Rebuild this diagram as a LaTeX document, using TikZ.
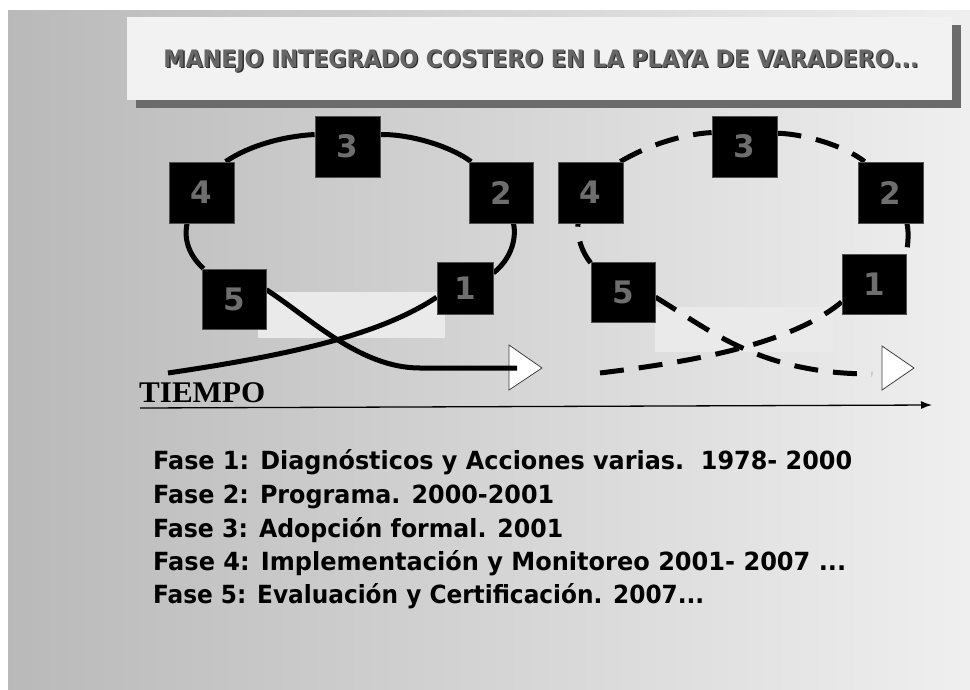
\documentclass[tikz,border=0pt]{standalone}
\usepackage{fontspec}
\usepackage{graphicx}
\usetikzlibrary{arrows.meta}
\newfontfamily\lsans{DejaVu Sans}
\newfontfamily\lserif{Liberation Serif}
\definecolor{bgdark}{HTML}{ABABAB}
\definecolor{titlebg}{HTML}{F2F2F2}
\definecolor{shadowc}{HTML}{6B6B6B}
\definecolor{numc}{HTML}{6E6E6E}
\definecolor{boxedge}{HTML}{505050}
\definecolor{lightrect}{HTML}{EAEAEA}
\definecolor{headedge}{HTML}{404040}
\definecolor{titletxt}{HTML}{666666}
\definecolor{titleshd}{HTML}{2E2E2E}
\pgfdeclarelayer{bglayer}
\pgfdeclarelayer{midlayer}
\pgfsetlayers{bglayer,midlayer,main}
\tikzset{
  numbox/.style={fill=black, draw=boxedge, line width=0.8pt, inner sep=0pt,
    text=numc, font=\lsans\bfseries\fontsize{31}{31}\selectfont,
    minimum width=65pt, minimum height=61pt},
  solidlink/.style={line width=5pt, draw=black},
  dashlink/.style={line width=5pt, draw=black, dash pattern=on 24pt off 15pt},
  openhead/.style={fill=white, draw=headedge, line width=0.8pt},
  listline/.style={anchor=base west, inner sep=0pt, font=\lsans\bfseries\fontsize{25}{25}\selectfont},
  titletext/.style={anchor=base, inner sep=0pt, font=\lsans\bfseries\fontsize{24}{24}\selectfont}
}
\begin{document}
\begin{tikzpicture}[x=1pt,y=-1pt]
\useasboundingbox (0,0) rectangle (970,689);
\begin{pgfonlayer}{bglayer}
  \fill[white] (0,0) rectangle (970,689);
  \begin{scope}
    \clip (8,10) rectangle (970,689);
    \shade[left color=bgdark, right color=white] (-245,10) rectangle (1255,689);
  \end{scope}
  \fill[lightrect] (258,292) rectangle (445,338);
  \fill[lightrect] (655,307) rectangle (833,352);
\end{pgfonlayer}

% title
\fill[shadowc] (136,25) rectangle (961,108);
\fill[titlebg] (127,17) rectangle (952,100);
\node[titletext, text=titleshd] at (542.3,68.3) {\resizebox{755pt}{\height}{MANEJO INTEGRADO COSTERO EN LA PLAYA DE VARADERO...}};
\node[titletext, text=titletxt] (title) at (541,67) {\resizebox{755pt}{\height}{MANEJO INTEGRADO COSTERO EN LA PLAYA DE VARADERO...}};

% left cycle boxes
\node[numbox] (L3) at (347.5,146.5) {3};
\node[numbox] (L4) at (201.5,192.5) {4};
\node[numbox, minimum width=64pt] (L2) at (501,192.5) {2};
\node[numbox, minimum width=64pt, minimum height=60pt] (L5) at (234,299) {5};
\node[numbox, minimum width=56pt, minimum height=52pt] (L1) at (465,288) {1};

% right cycle boxes
\node[numbox] (R3) at (744.5,146.5) {3};
\node[numbox] (R4) at (590.5,192.5) {4};
\node[numbox] (R2) at (890.5,192.5) {2};
\node[numbox, minimum width=64pt, minimum height=60pt] (R5) at (623,292) {5};
\node[numbox, minimum width=64pt, minimum height=60pt] (R1) at (874,284) {1};

\coordinate (LH) at (509,368);
\coordinate (LS) at (168,373);
\coordinate (RH) at (882,368);
\coordinate (RS) at (600,373);
\coordinate (RE) at (872,374);

\begin{pgfonlayer}{midlayer}
  % left loop
  \draw[solidlink] (L5.135) .. controls (192,258) and (183,243) .. (L4.245);
  \draw[solidlink] (L4.52) .. controls (250,145) and (285,136) .. (L3.160);
  \draw[solidlink] (L3.20) .. controls (410,134) and (450,146) .. (L2.134);
  \draw[solidlink] (L2.292) .. controls (517,240) and (510,260) .. (L1.28);
  % left crossing
  \draw[openhead] (LH) -- ++(0,-23) -- ++(33,23) -- ++(-33,22) -- cycle;
  \draw[solidlink] (L5.16) .. controls (310,318) and (360,368) .. (420,368) -- ([xshift=8pt]LH);
  \draw[solidlink] (LS) .. controls (290,355) and (380,335) .. (L1.198);
  % right loop
  \draw[dashlink] (R5.138) .. controls (582,252) and (577,238) .. (R4.248);
  \draw[dashlink] (R4.46) .. controls (650,144) and (685,134) .. (R3.157);
  \draw[dashlink] (R3.22) .. controls (805,134) and (845,146) .. (R2.130);
  \draw[dashlink] (R2.298) .. controls (909,232) and (908,244) .. (R1.43);
  % right crossing
  \draw[openhead] (RH) -- ++(0,-22) -- ++(32,22) -- ++(-32,22) -- cycle;
  \draw[dashlink] (R5.351) .. controls (710,330) and (760,374) .. (RE);
  \draw[dashlink] (RS) .. controls (690,362) and (790,345) .. (R1.209);
\end{pgfonlayer}

% time axis
\coordinate (T0) at (140,408);
\coordinate (T1) at (932,405);
\draw[line width=1.3pt, -{Latex[length=11pt,width=8pt]}] (T0) -- (T1);
\node[anchor=base west, inner sep=0pt, font=\lserif\bfseries\fontsize{30}{30}\selectfont] (tiempo) at (139,402) {\resizebox{126pt}{\height}{TIEMPO}};

% phases
\node[listline] (f1) at (153,469) {\resizebox{699pt}{\height}{Fase 1: Diagnósticos y Acciones varias.\ \ 1978- 2000}};
\node[listline] (f2) at (153,503) {\resizebox{401pt}{\height}{Fase 2: Programa. 2000-2001}};
\node[listline] (f3) at (153,537) {\resizebox{410pt}{\height}{Fase 3: Adopción formal. 2001}};
\node[listline] (f4) at (153,570) {\resizebox{693pt}{\height}{Fase 4: Implementación y Monitoreo 2001- 2007 ...}};
\node[listline] (f5) at (153,603) {\resizebox{551pt}{\height}{Fase 5: Evaluación y Certificación. 2007...}};
\end{tikzpicture}
\end{document}
